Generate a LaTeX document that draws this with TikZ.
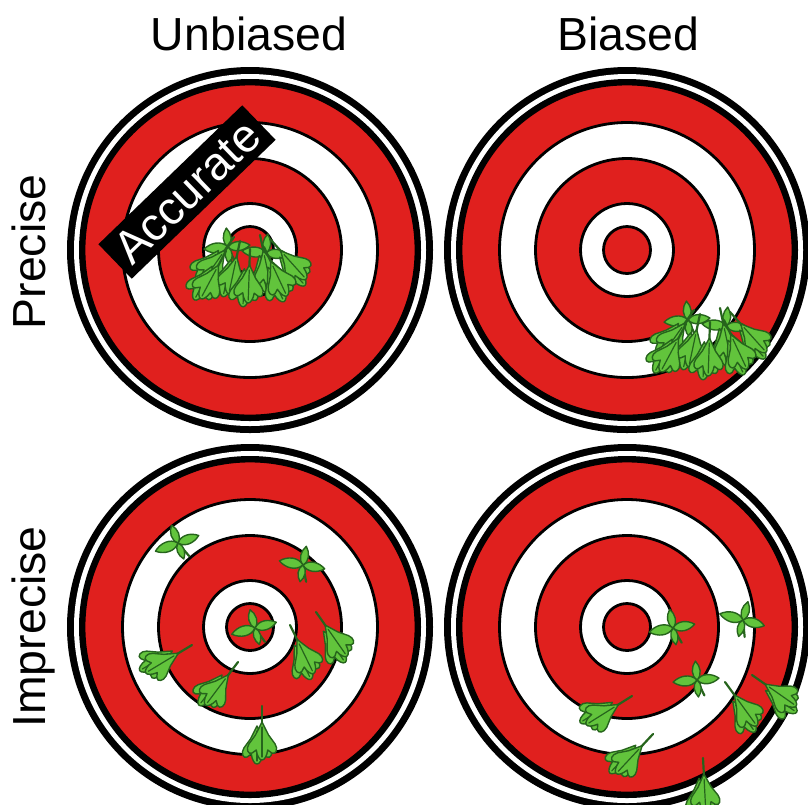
\documentclass[tikz,border=0pt]{standalone}
\usepackage{fontspec}
\setmainfont{Liberation Sans}
\definecolor{targetred}{RGB}{224,32,30}
\definecolor{dartgreen}{RGB}{98,196,60}
\definecolor{dartdark}{RGB}{38,100,28}
\tikzset{
  % Ring boundaries: thin black line on every colour change
  ringline/.style={draw=black, line width=0.28mm},
  % Dart parts
  fin/.style={fill=dartgreen, draw=dartdark, line width=0.14mm, line join=round},
  shaft/.style={draw=dartdark, line width=0.22mm, line cap=round},
  % Column / row headings
  heading/.style={font=\fontsize{13.2pt}{15pt}\selectfont, inner sep=0pt},
  % Black banner with white lettering
  tag/.style={fill=black, text=white, font=\fontsize{13.2pt}{15pt}\selectfont,
              minimum width=20mm, minimum height=4.8mm, inner sep=0pt},
  % Whole target face, centred on the pic origin
  target/.pic={
    \fill[black] (0,0) circle (18.3mm);
    \fill[white] (0,0) circle (17.6mm);
    \fill[black] (0,0) circle (17.1mm);
    \filldraw[ringline, fill=targetred] (0,0) circle (16.6mm);
    \filldraw[ringline, fill=white]     (0,0) circle (12.75mm);
    \filldraw[ringline, fill=targetred] (0,0) circle (9.15mm);
    \filldraw[ringline, fill=white]     (0,0) circle (4.65mm);
    \filldraw[ringline, fill=targetred] (0,0) circle (2.35mm);
  },
  % Dart seen from the side: tip at origin, flights downwards
  % (two flight layers, the rear one a little offset)
  sidedart/.pic={
    \draw[shaft] (0,0) -- (0,30);
    \foreach \dx/\dy in {-5/4, 0/0} {
      \filldraw[fin, shift={(\dx,\dy)}, xscale=0.82] (0,16) .. controls (4,22) .. (8,29) -- (16,38)
        .. controls (20,43) and (17,49) .. (12,47) -- (7,44)
        .. controls (6,50) and (3,54) .. (0,54)
        .. controls (-3,54) and (-6,50) .. (-7,44) -- (-12,47)
        .. controls (-17,49) and (-20,43) .. (-16,38) -- (-8,29)
        .. controls (-4,22) .. (0,16) -- cycle;
      \draw[shaft, line width=0.12mm, shift={(\dx,\dy)}] (0,21) -- (0,51);
    }
  },
  % Dart seen almost end-on: four fins in a cross
  crossdart/.pic={
    \draw[shaft] (0,0) -- (6,16);
    \foreach \a/\l in {0/22,90/19,180/24,270/17}
      \filldraw[fin, rotate=\a] (0,0) .. controls (0.25*\l,-0.3*\l) and (0.7*\l,-0.25*\l) .. (\l,0)
        .. controls (0.7*\l,0.25*\l) and (0.25*\l,0.3*\l) .. (0,0) -- cycle;
  },
  % Tight group of darts
  cluster/.pic={
    \pic[rotate=5]   at (-22,-18) {crossdart};
    \pic[rotate=-5]  at (16,-12) {crossdart};
    \pic[rotate=-35] at (-16,-28) {sidedart};
    \pic[rotate=-12] at (-10,-24) {sidedart};
    \pic[rotate=12]  at (10,-30) {sidedart};
    \pic[rotate=42]  at (20,-26) {sidedart};
    \pic[rotate=-2]  at (0,-16) {sidedart};
    \pic[rotate=25]  at (14,-18) {sidedart};
    \pic[rotate=-28] at (-24,-14) {sidedart};
  }
}

\begin{document}
\begin{tikzpicture}[x=0.1mm, y=-0.1mm]
\useasboundingbox (0,0) rectangle (808,804);
\clip (0,0) rectangle (808,804);

% ============== targets ==============
\coordinate (tl) at (250,250);
\coordinate (tr) at (627,250);
\coordinate (bl) at (250,627);
\coordinate (br) at (627,627);
\foreach \c in {tl,tr,bl,br}
  \pic at (\c) {target};

% ============== precise: grouped darts ==============
\pic at (250,265) {cluster};
\pic at (710,338) {cluster};

% ============== imprecise, unbiased ==============
\pic[rotate=20]  at (178,543) {crossdart};
\pic[rotate=-10] at (303,565) {crossdart};
\pic[rotate=15]  at (255,628) {crossdart};
\pic[rotate=35]  at (316,612) {sidedart};
\pic[rotate=26]  at (290,625) {sidedart};
\pic[rotate=-59] at (192,645) {sidedart};
\pic[rotate=-37] at (238,662) {sidedart};
\pic[rotate=0]   at (262,706) {sidedart};

% ============== imprecise, biased ==============
\pic[rotate=10]  at (673,628) {crossdart};
\pic[rotate=-15] at (743,620) {crossdart};
\pic[rotate=5]   at (697,680) {crossdart};
\pic[rotate=55]  at (752,675) {sidedart};
\pic[rotate=36]  at (725,682) {sidedart};
\pic[rotate=-58] at (632,696) {sidedart};
\pic[rotate=-43] at (653,734) {sidedart};
\pic[rotate=3]   at (703,758) {sidedart};

% ============== labels ==============
\node[tag, rotate=44] (accurate) at (187,192) {Accurate};
\node[heading, anchor=base] (unbiased) at (249,50) {Unbiased};
\node[heading, anchor=base] (biased) at (628,50) {Biased};
\node[heading, anchor=base, rotate=90] (precise) at (45,252) {Precise};
\node[heading, anchor=base, rotate=90] (imprecise) at (45,627) {Imprecise};

\end{tikzpicture}
\end{document}
